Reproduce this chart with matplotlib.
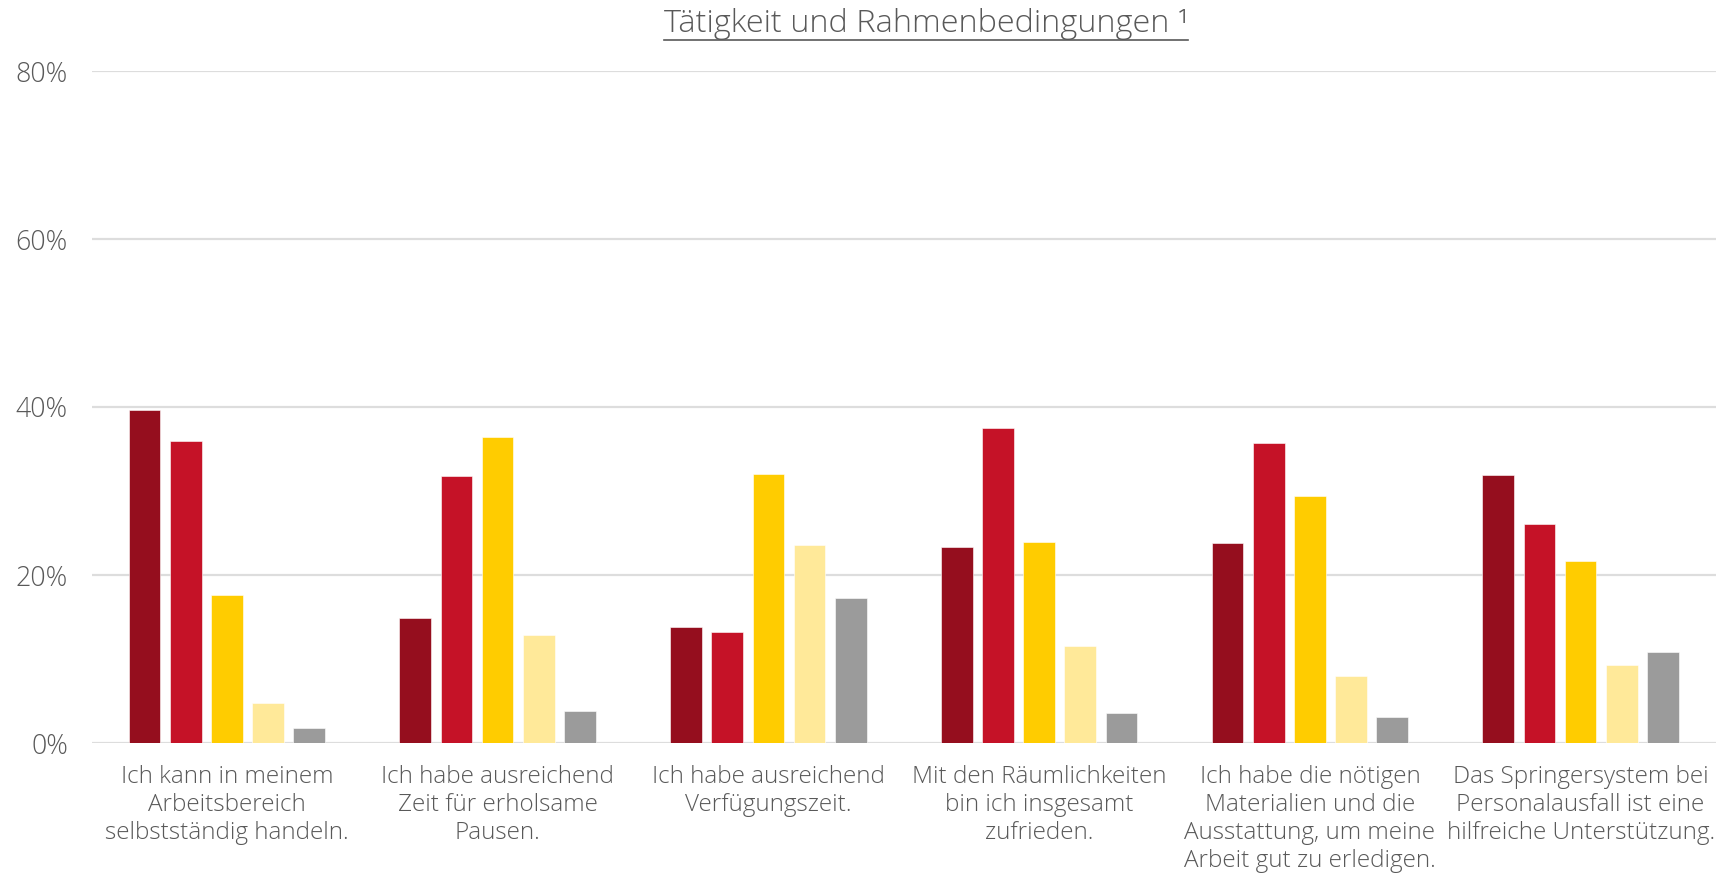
import matplotlib
matplotlib.use("Agg")
import matplotlib.pyplot as plt
from matplotlib.lines import Line2D
import numpy as np

categories = [
    "Ich kann in meinem\nArbeitsbereich\nselbstständig handeln.",
    "Ich habe ausreichend\nZeit für erholsame\nPausen.",
    "Ich habe ausreichend\nVerfügungszeit.",
    "Mit den Räumlichkeiten\nbin ich insgesamt\nzufrieden.",
    "Ich habe die nötigen\nMaterialien und die\nAusstattung, um meine\nArbeit gut zu erledigen.",
    "Das Springersystem bei\nPersonalausfall ist eine\nhilfreiche Unterstützung.",
]
s1 = [39.6, 14.9, 13.8, 23.3, 23.8, 31.9]
s2 = [36.0, 31.8, 13.2, 37.5, 35.7, 26.1]
s3 = [17.6, 36.4, 32.0, 23.9, 29.4, 21.7]
s4 = [4.8, 12.9, 23.6, 11.6, 8.0, 9.3]
s5 = [1.8, 3.8, 17.3, 3.6, 3.1, 10.8]
series = [s1, s2, s3, s4, s5]
colors = ["#950E1E", "#C51227", "#FFCC00", "#FFE999", "#9B9B9B"]
yticks = [0, 20, 40, 60, 80]
ytick_labels = ["0%", "20%", "40%", "60%", "80%"]
title = "Tätigkeit und Rahmenbedingungen ¹"

plt.rcParams['font.family'] = ['Open Sans', 'DejaVu Sans']
txt_color = "#595959"
fw = 'light'

fig = plt.figure(figsize=(17.16, 8.75), dpi=100)
ax = fig.add_axes([91.5/1716, 1-743/875, (1716-91.5)/1716, (743-71)/875])

x = np.arange(len(categories))
step = 0.152
width = 0.117
for i, (vals, c) in enumerate(zip(series, colors)):
    ax.bar(x + (i-2)*step, vals, width=width, color=c, zorder=3,
           edgecolor='white', linewidth=0.4)

ax.set_xlim(-0.5, len(categories)-0.5)
ax.set_ylim(0, 80)
ax.set_yticks(yticks)
ax.set_yticklabels(ytick_labels, fontsize=19.3, color=txt_color, fontweight=fw)
ax.set_xticks(x)
ax.set_xticklabels(categories, fontsize=17.5, color=txt_color, linespacing=1.23,
                   fontweight=fw)
ax.tick_params(axis='y', length=0, pad=17)
ax.tick_params(axis='x', length=0, pad=15.5)
ax.yaxis.grid(True, color="#DDDDDD", linewidth=1.6, zorder=0)
ax.set_axisbelow(True)
for sp in ax.spines.values():
    sp.set_visible(False)

t = fig.text(926/1716, 1-32/875, title, ha='center', va='baseline',
             fontsize=23.4, color=txt_color, fontweight=fw)
fig.canvas.draw()
bb = t.get_window_extent(renderer=fig.canvas.get_renderer())
yl = 1 - 40/875
fig.add_artist(Line2D([bb.x0/fig.bbox.width, bb.x1/fig.bbox.width], [yl, yl],
                      color=txt_color, linewidth=1.2, transform=fig.transFigure))

fig.savefig("out.png", dpi=100)
